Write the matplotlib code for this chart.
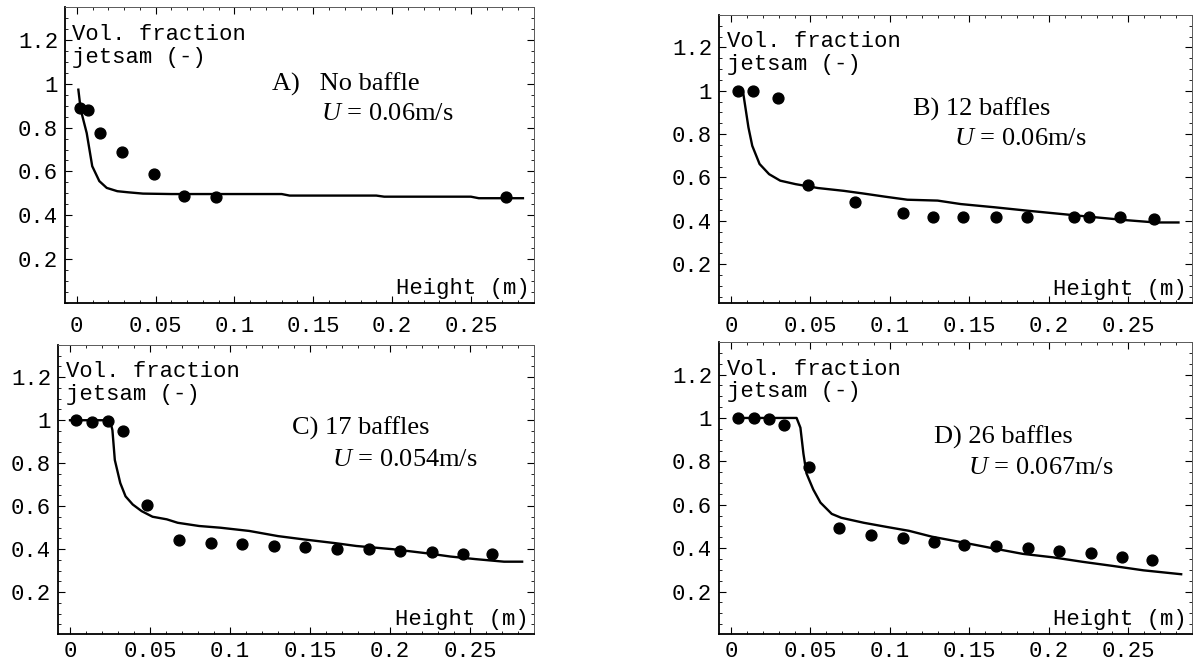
import matplotlib
matplotlib.use("Agg")
import matplotlib.pyplot as plt
from matplotlib.ticker import MultipleLocator

plt.rcParams['mathtext.fontset'] = 'custom'
plt.rcParams['mathtext.rm'] = 'Liberation Serif'
plt.rcParams['mathtext.it'] = 'Liberation Serif:italic'

# A) no baffle
a_pt_x = [0.002, 0.007, 0.0146, 0.029, 0.049, 0.068, 0.0885, 0.2725]
a_pt_y = [0.89, 0.88, 0.775, 0.69, 0.59, 0.49, 0.485, 0.485]
a_line_x = [0.001, 0.0025, 0.0063, 0.0098, 0.0143, 0.019, 0.0257, 0.0325, 0.042, 0.06, 0.09, 0.13,
            0.135, 0.19, 0.195, 0.25, 0.255, 0.283]
a_line_y = [0.973, 0.882, 0.775, 0.624, 0.556, 0.525, 0.51, 0.505, 0.499, 0.497, 0.497, 0.497,
            0.49, 0.49, 0.485, 0.485, 0.478, 0.478]

# B) 12 baffles
b_pt_x = [0.0047, 0.0141, 0.0293, 0.0486, 0.078, 0.108, 0.127, 0.146, 0.167, 0.186, 0.216, 0.225, 0.245, 0.266]
b_pt_y = [1.0, 0.998, 0.965, 0.565, 0.488, 0.436, 0.415, 0.415, 0.415, 0.415, 0.415, 0.415, 0.415, 0.408]
b_line_x = [0.0075, 0.011, 0.0134, 0.018, 0.024, 0.031, 0.0406, 0.0547, 0.071, 0.083, 0.097, 0.111,
            0.13, 0.1445, 0.166, 0.187, 0.201, 0.2248, 0.248, 0.267, 0.2815]
b_line_y = [1.0, 0.831, 0.746, 0.662, 0.615, 0.585, 0.569, 0.551, 0.538, 0.526, 0.511, 0.497,
            0.493, 0.477, 0.462, 0.446, 0.436, 0.419, 0.403, 0.392, 0.392]

# C) 17 baffles
c_pt_x = [0.004, 0.0139, 0.0235, 0.0334, 0.0484, 0.0679, 0.0881, 0.1076, 0.1276, 0.147, 0.1666,
          0.187, 0.2065, 0.226, 0.2457, 0.264]
c_pt_y = [1.0, 0.992, 0.995, 0.951, 0.606, 0.442, 0.431, 0.422, 0.415, 0.409, 0.403, 0.403,
          0.394, 0.388, 0.38, 0.376]
c_line_x = [0.0, 0.025, 0.0265, 0.028, 0.0314, 0.0347, 0.0392, 0.0448, 0.0516, 0.0605, 0.0673,
            0.0807, 0.094, 0.112, 0.13, 0.1457, 0.166, 0.179, 0.2018, 0.2242, 0.2377, 0.2534,
            0.2713, 0.2826]
c_line_y = [1.0, 1.0, 0.954, 0.815, 0.708, 0.646, 0.608, 0.577, 0.551, 0.539, 0.523, 0.508,
            0.5, 0.485, 0.461, 0.446, 0.428, 0.415, 0.4, 0.38, 0.366, 0.354, 0.342, 0.342]

# D) 26 baffles
d_pt_x = [0.0045, 0.0143, 0.024, 0.0335, 0.0488, 0.0681, 0.0878, 0.108, 0.1275, 0.1468, 0.167,
          0.1867, 0.2062, 0.2264, 0.246, 0.2648]
d_pt_y = [1.0, 1.0, 0.996, 0.966, 0.775, 0.495, 0.463, 0.448, 0.43, 0.415, 0.409, 0.4, 0.388,
          0.376, 0.361, 0.345]
d_line_x = [0.003, 0.0413, 0.0437, 0.0456, 0.0475, 0.0492, 0.0518, 0.0563, 0.0634, 0.0694, 0.0836,
            0.0979, 0.112, 0.1264, 0.1454, 0.1644, 0.1834, 0.2024, 0.2214, 0.2404, 0.2594, 0.2832]
d_line_y = [1.0, 1.0, 0.955, 0.835, 0.745, 0.715, 0.67, 0.61, 0.558, 0.54, 0.517, 0.498, 0.48,
            0.453, 0.427, 0.4, 0.374, 0.358, 0.337, 0.318, 0.298, 0.28]

titles = ["A)   No baffle", "B) 12 baffles", "C) 17 baffles", "D) 26 baffles"]
speeds = ["$U$ = 0.06m/s", "$U$ = 0.06m/s", "$U$ = 0.054m/s", "$U$ = 0.067m/s"]

x_ticks = [0, 0.05, 0.1, 0.15, 0.2, 0.25]
x_tick_labels = ["0", "0.05", "0.1", "0.15", "0.2", "0.25"]
y_ticks = [0.2, 0.4, 0.6, 0.8, 1.0, 1.2]
y_tick_labels = ["0.2", "0.4", "0.6", "0.8", "1", "1.2"]

panels = [
    (a_pt_x, a_pt_y, a_line_x, a_line_y),
    (b_pt_x, b_pt_y, b_line_x, b_line_y),
    (c_pt_x, c_pt_y, c_line_x, c_line_y),
    (d_pt_x, d_pt_y, d_line_x, d_line_y),
]

# axes boxes [left, bottom, width, height] in figure fraction
boxes = [
    [0.0544, 0.545, 0.3928, 0.4445],
    [0.6022, 0.545, 0.3961, 0.4325],
    [0.0486, 0.0485, 0.3986, 0.4335],
    [0.6022, 0.0485, 0.3961, 0.438],
]
x_pads = [9, 9, 5, 5]
# annotation positions (data coords): title line and U line
title_pos = [(0.124, 0.97), (0.1145, 0.887), (0.1385, 0.931), (0.1275, 0.882)]
speed_pos = [(0.155, 0.835), (0.140, 0.75), (0.164, 0.789), (0.149, 0.742)]
ylows = [0.0, 0.02, 0.007, 0.006]

mono = "Liberation Mono"
serif = "Liberation Serif"

fig = plt.figure(figsize=(11.94, 6.66), dpi=100)

for i, (px, py, lx, ly) in enumerate(panels):
    ax = fig.add_axes(boxes[i])
    ax.plot(lx, ly, color="black", linewidth=1.7)
    ax.plot(px, py, "o", color="black", markersize=7.8)

    ax.set_xlim(-0.0075, 0.29)
    ax.set_ylim(ylows[i], 1.35)
    ax.set_xticks(x_ticks)
    ax.set_xticklabels(x_tick_labels, fontfamily=mono, fontsize=16)
    ax.set_yticks(y_ticks)
    ax.set_yticklabels(y_tick_labels, fontfamily=mono, fontsize=16)
    ax.xaxis.set_minor_locator(MultipleLocator(0.01))
    ax.yaxis.set_minor_locator(MultipleLocator(0.05))
    ax.tick_params(which="both", direction="in", top=True, right=True, color="black")
    ax.tick_params(which="major", length=5, width=0.8)
    ax.tick_params(which="minor", length=2.5, width=0.6)
    ax.tick_params(axis="x", pad=x_pads[i])
    ax.tick_params(axis="y", pad=5)
    for s in ["left", "bottom"]:
        ax.spines[s].set_linewidth(1.3)
    for s in ["top", "right"]:
        ax.spines[s].set_linewidth(0.7)
        ax.spines[s].set_color("0.35")

    ax.text(0.016, 1.2, "Vol. fraction", transform=ax.get_yaxis_transform(),
            fontfamily=mono, fontsize=16, va="baseline", ha="left")
    ax.text(0.016, 1.095, "jetsam (-)", transform=ax.get_yaxis_transform(),
            fontfamily=mono, fontsize=16, va="baseline", ha="left")
    ax.text(0.99, 0.012, "Height (m)", transform=ax.transAxes,
            fontfamily=mono, fontsize=16, va="bottom", ha="right")

    ax.text(title_pos[i][0], title_pos[i][1], titles[i], fontfamily=serif, fontsize=19,
            va="baseline", ha="left")
    ax.text(speed_pos[i][0], speed_pos[i][1], speeds[i], fontfamily=serif, fontsize=19,
            va="baseline", ha="left")

fig.savefig("out.png", dpi=100)
